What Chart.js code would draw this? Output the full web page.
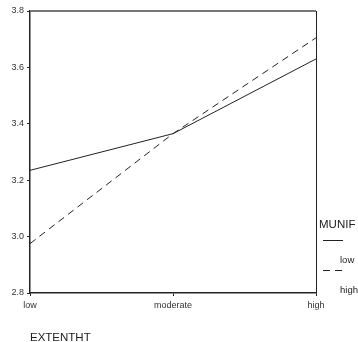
<!DOCTYPE html>
<html>
<head>
<meta charset="utf-8">
<script src="https://cdn.jsdelivr.net/npm/chart.js@4"></script>
<style>
    body { margin: 0; background: #fff; }
    #wrap { position: relative; width: 358px; height: 342px; }
    #legend div { position: absolute; font-family: "Liberation Sans", Arial, sans-serif; color: #222; line-height: 1; white-space: nowrap; }
    #legend .title { font-size: 11.5px; left: 319px; top: 219px; }
    #legend .line { height: 0; border-top: 1px solid #222; }
    #legend .lab { font-size: 9.5px; left: 340px; }
</style>
</head>
<body>
<div id="wrap">
    <canvas id="chart" width="358" height="342"></canvas>
    <div id="legend">
        <div class="title">MUNIF</div>
        <div class="line" style="top:240px; left:323px; width:20px"></div>
        <div class="lab" style="top:255px">low</div>
        <div class="line" style="top:270px; left:323px; width:7px"></div>
        <div class="line" style="top:270px; left:335px; width:7px"></div>
        <div class="lab" style="top:285px">high</div>
    </div>
</div>
<script>
const categories = ['low', 'moderate', 'high'];
const seriesNames = ['low', 'high'];
const munifLow = [3.235, 3.365, 3.63];
const munifHigh = [2.975, 3.365, 3.705];
const yTicks = [2.8, 3.0, 3.2, 3.4, 3.6, 3.8];

// frame around plot area: gray top, dark right
const frame = {
    id: 'frame',
    beforeDatasetsDraw(chart) {
        const { ctx, chartArea: a } = chart;
        ctx.save();
        ctx.strokeStyle = '#777';
        ctx.lineWidth = 2;
        ctx.beginPath();
        ctx.moveTo(a.left, a.top);
        ctx.lineTo(a.right, a.top);
        ctx.stroke();
        ctx.strokeStyle = '#222';
        ctx.lineWidth = 1;
        ctx.beginPath();
        ctx.moveTo(a.right + 0.5, a.top);
        ctx.lineTo(a.right + 0.5, a.bottom);
        ctx.stroke();
        ctx.restore();
    }
};

const family = '"Liberation Sans", Arial, sans-serif';

new Chart(document.getElementById('chart'), {
    type: 'line',
    data: {
        labels: categories,
        datasets: [
            { label: seriesNames[0], data: munifLow, borderColor: '#222', borderWidth: 1, pointRadius: 0, tension: 0 },
            { label: seriesNames[1], data: munifHigh, borderColor: '#222', borderWidth: 1, borderDash: [7, 5], pointRadius: 0, tension: 0 }
        ]
    },
    options: {
        responsive: false,
        animation: false,
        layout: { padding: { top: 11, right: 42, left: 0, bottom: 0 } },
        plugins: { legend: { display: false }, tooltip: { enabled: false } },
        scales: {
            x: {
                offset: false,
                grid: { drawOnChartArea: false, tickLength: 3, color: '#222' },
                border: { color: '#222', width: 1.5 },
                ticks: { font: { family: family, size: 9 }, color: '#333', padding: 4, maxRotation: 0 },
                title: { display: true, text: 'EXTENTHT', align: 'start', font: { family: family, size: 11.5 }, color: '#222', padding: { top: 16, bottom: -3 } },
                afterFit: s => { s.height = 49; }
            },
            y: {
                min: 2.8,
                max: 3.8,
                afterBuildTicks: s => { s.ticks = yTicks.map(v => ({ value: v })); },
                grid: { drawOnChartArea: false, tickLength: 3, color: '#222' },
                border: { color: '#222', width: 1.5 },
                ticks: { font: { family: family, size: 9 }, color: '#333', padding: 3, callback: v => v.toFixed(1) },
                afterFit: s => { s.width = 30; }
            }
        }
    },
    plugins: [frame]
});
</script>
</body>
</html>
